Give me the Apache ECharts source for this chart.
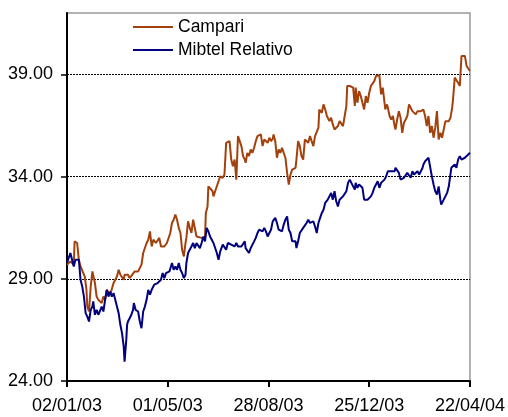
<!DOCTYPE html>
<html>
<head>
<meta charset="utf-8">
<script src="https://cdn.jsdelivr.net/npm/echarts@6/dist/echarts.min.js"></script>
<style>
html,body{margin:0;padding:0;background:#fff;}
#chart{width:508px;height:417px;}
</style>
</head>
<body>
<div id="chart"></div>
<script>
// x values are day offsets from 02/01/03
const xTickLabels = ['02/01/03','01/05/03','28/08/03','25/12/03','22/04/04'];
const yTickValues = [24, 29, 34, 39];
const seriesNames = ['Campari', 'Mibtel Relativo'];

const campariDays = [0,4,8,9,12,14,16,18,21,23,24,26,28,30,32,33,35,37,39,41,43,45,47,51,55,59,61,63,65,67,68,72,74,76,80,84,88,90,94,96,98,100,102,105,107,109,111,115,118,122,124,126,128,130,132,134,136,138,140,141,143,145,147,149,151,153,155,159,161,163,164,166,167,169,172,173,175,177,179,181,184,186,188,190,192,194,196,198,200,202,204,206,208,210,211,213,215,217,219,221,223,225,227,229,231,233,235,237,239,241,243,244,246,248,250,252,254,256,258,260,262,264,266,270,271,273,275,277,279,281,283,285,287,289,291,293,295,297,298,301,303,305,307,308,310,312,314,316,318,320,322,324,326,328,330,331,334,338,340,341,343,345,347,349,351,353,355,357,359,361,363,365,369,371,373,375,376,378,379,381,383,385,387,388,390,392,394,396,398,400,402,404,406,408,410,412,414,416,418,420,421,423,425,427,429,431,433,435,437,439,441,443,445,447,449,451,453,455,456,458,460,462,464,466,468,470,472,474,476];
const campariValues = [29.69,29.85,29.69,30.83,30.75,29.93,29.60,29.69,29.11,28.46,27.64,27.40,28.62,29.36,29.36,28.79,28.13,27.97,28.05,27.81,28.13,27.97,28.46,28.22,28.79,29.11,29.44,29.20,29.28,28.95,29.20,29.20,29.03,29.11,29.36,29.36,29.69,30.26,30.75,30.91,31.32,30.58,30.91,30.75,30.75,31.00,30.58,30.58,30.75,31.24,31.73,31.89,32.14,31.89,31.49,31.24,30.42,30.09,30.75,31.00,31.81,31.49,31.24,31.89,31.89,31.07,31.00,31.00,31.07,31.00,32.22,32.54,33.52,33.45,33.28,33.03,33.28,33.36,33.77,34.01,33.94,34.10,35.65,35.73,35.73,34.83,34.50,34.83,33.85,35.98,35.98,35.49,35.00,34.83,34.67,35.16,35.00,35.32,35.16,35.41,35.73,35.98,35.90,36.06,35.49,35.81,35.73,35.65,35.90,35.73,35.85,36.06,35.73,34.92,35.32,35.16,35.41,35.16,34.92,34.18,33.61,34.10,34.34,34.43,34.83,35.73,35.49,35.00,34.83,35.81,35.90,35.65,35.98,35.73,35.49,35.98,36.06,36.39,37.28,37.12,37.53,37.28,36.96,37.04,36.71,36.88,36.55,36.30,36.39,36.47,36.71,36.79,36.47,36.55,37.45,38.43,38.43,38.35,37.45,38.35,37.61,38.18,37.94,37.61,37.28,37.94,37.61,38.10,38.43,38.51,38.67,38.92,38.95,38.02,38.35,38.26,37.28,37.53,37.37,36.96,36.79,36.96,36.47,36.30,36.79,37.20,36.88,36.14,36.63,36.79,36.96,37.53,37.45,37.20,37.28,37.04,37.20,37.12,37.20,37.20,37.28,36.96,36.47,36.96,36.14,36.47,35.90,36.39,37.20,35.81,36.14,35.90,36.30,36.71,36.79,36.71,36.88,37.37,37.77,38.84,38.75,38.59,38.43,39.90,39.98,39.90,39.41,39.33,39.16];

const mibtelDays = [0,4,6,8,10,12,14,16,18,20,22,24,26,28,30,31,33,35,37,39,41,43,45,47,49,51,53,55,57,59,61,63,65,67,68,70,71,72,74,76,78,79,81,84,86,88,90,92,94,96,98,100,101,103,105,107,111,113,115,117,121,124,126,128,130,132,134,136,138,140,141,143,145,147,149,151,153,155,157,159,161,163,165,167,169,171,173,175,177,179,181,182,184,186,188,190,192,194,196,198,200,202,204,206,208,210,211,213,215,217,219,221,223,225,227,229,231,233,235,237,239,241,243,245,246,248,250,252,254,256,258,260,262,264,266,268,270,271,273,275,277,279,281,283,285,287,289,291,293,295,297,299,301,303,305,307,308,310,312,314,316,318,320,322,324,326,328,330,332,334,336,338,340,341,343,345,347,349,351,353,355,357,359,361,363,365,367,369,371,373,375,377,379,381,383,385,387,388,390,392,394,396,398,400,402,404,406,408,410,412,414,416,418,420,421,423,425,427,429,431,433,435,437,439,441,442,445,447,449,451,453,454,456,458,460,462,464,466,468,470,472,474,476];
const mibtelValues = [29.77,30.26,29.93,29.60,29.93,29.85,29.93,28.95,28.62,28.13,27.32,27.15,26.91,27.48,27.64,27.89,27.24,27.48,27.24,27.15,27.64,27.40,27.97,28.46,28.13,28.38,28.13,28.30,27.97,27.64,27.32,26.75,26.34,25.68,24.95,26.01,26.75,26.91,27.07,27.24,27.48,27.81,27.48,27.40,26.91,26.58,27.40,27.64,27.97,28.46,28.22,28.46,28.54,28.71,28.62,28.79,28.95,29.28,29.03,29.28,29.36,29.77,29.44,29.60,29.44,29.77,29.44,29.28,29.03,29.20,29.77,30.26,30.42,30.58,30.75,30.50,30.75,30.67,30.50,30.75,31.07,30.83,31.49,31.32,31.07,31.00,30.75,30.67,30.26,29.93,30.34,30.42,30.67,30.75,30.42,30.75,30.83,30.67,30.75,30.58,30.75,30.58,30.67,30.58,30.58,30.83,30.50,30.42,30.26,30.50,30.58,30.83,31.00,31.24,31.40,31.40,31.32,31.49,31.32,31.07,31.24,31.40,31.81,31.73,31.98,31.73,31.40,31.32,31.32,31.65,31.89,32.05,31.40,31.24,30.83,30.91,30.83,30.50,30.83,31.24,31.32,31.49,31.56,31.73,31.89,31.73,31.81,31.81,31.56,31.24,31.73,31.98,32.22,32.38,32.71,32.71,32.87,32.96,33.20,32.87,33.28,32.79,32.54,32.87,32.87,33.03,33.12,33.28,33.69,33.85,33.77,33.52,33.36,33.69,33.45,33.61,33.69,33.45,32.87,32.79,32.87,32.87,33.03,33.20,33.45,33.52,33.77,33.45,33.69,33.69,33.85,34.01,34.26,34.26,34.26,34.34,34.26,34.43,34.50,34.18,33.85,33.77,33.94,33.85,34.18,34.10,33.94,34.26,34.10,34.18,34.26,34.10,34.26,34.43,34.59,34.75,34.83,34.92,34.83,34.01,33.61,33.28,33.12,33.52,32.87,32.63,32.87,32.96,33.20,33.52,33.61,34.43,34.50,34.59,34.43,34.83,35.00,34.83,34.92,34.92,34.92,35.08,35.16];

function zip(xs, ys) { return xs.map((x, i) => [x, ys[i]]); }

const FONT = '"Liberation Sans", Arial, sans-serif';
const chart = echarts.init(document.getElementById('chart'), null, {renderer: 'canvas'});
chart.setOption({
  animation: false,
  backgroundColor: '#fff',
  textStyle: {fontFamily: FONT},
  grid: {left: 67, right: 33, top: 13, bottom: 36, show: true, borderColor: '#999', borderWidth: 1.5, backgroundColor: 'transparent'},
  legend: {
    data: seriesNames,
    orient: 'vertical',
    left: 128, top: 12,
    icon: 'rect', itemWidth: 40, itemHeight: 2, itemGap: 3,
    textStyle: {fontSize: 17.5, color: '#000', fontFamily: FONT, lineHeight: 20}
  },
  xAxis: {
    type: 'value', min: 0, max: 476, interval: 119,
    splitLine: {show: false},
    axisLine: {lineStyle: {color: '#000', width: 2}},
    axisTick: {show: true, length: 6, lineStyle: {color: '#000', width: 2}},
    axisLabel: {
      margin: 16, fontSize: 18, color: '#000', fontFamily: FONT,
      formatter: v => xTickLabels[Math.round(v / 119)] || ''
    }
  },
  yAxis: {
    type: 'value', min: 24, max: 42, interval: 5,
    axisLine: {show: true, lineStyle: {color: '#000', width: 2}},
    axisTick: {show: true, length: 6, lineStyle: {color: '#000', width: 1.5}, customValues: yTickValues},
    axisLabel: {margin: 14, fontSize: 18, color: '#000', fontFamily: FONT, customValues: yTickValues,
      formatter: v => v.toFixed(2)},
    splitLine: {show: true, lineStyle: {color: '#000', width: 1, type: [2, 1]}}
  },
  series: [
    {name: seriesNames[0], type: 'line', data: zip(campariDays, campariValues), symbol: 'none',
      lineStyle: {color: '#A3410C', width: 2}, itemStyle: {color: '#A3410C'}, z: 3},
    {name: seriesNames[1], type: 'line', data: zip(mibtelDays, mibtelValues), symbol: 'none',
      lineStyle: {color: '#000080', width: 2}, itemStyle: {color: '#000080'}, z: 4}
  ]
});
</script>
</body>
</html>
